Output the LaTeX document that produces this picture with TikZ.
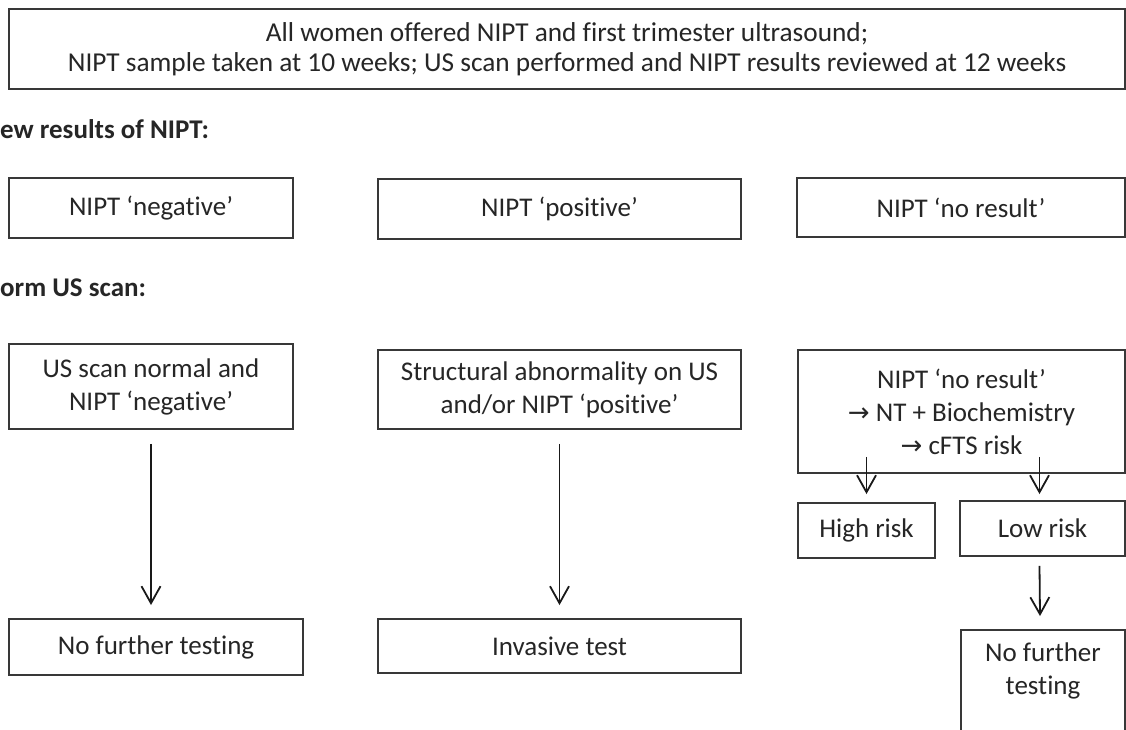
\documentclass[tikz,border=0pt]{standalone}
\usepackage{fontspec}
\setmainfont{Carlito}[Ligatures={TeX,NoCommon}]
\newfontfamily\symfont{DejaVu Sans}
\usetikzlibrary{arrows.meta}
\newcommand{\rarr}{{\symfont\fontsize{26}{33}\selectfont →}}
\begin{document}
\begin{tikzpicture}[x=1pt,y=-1pt,
  box/.style={draw=black!78,line width=1.9pt,rectangle,inner sep=0pt,align=center,
    font=\fontsize{27}{33}\selectfont,text=black!85},
  lab/.style={anchor=west,inner sep=0pt,font=\bfseries\fontsize{27}{33}\selectfont,text=black!85},
  arr/.style={draw=black!90,line width=1.8pt,-{Straight Barb[length=17pt,width=19pt]}}]
\useasboundingbox (0,0) rectangle (1126,729);
\clip (0,0) rectangle (1126,729);
\fill[white] (0,0) rectangle (1126,729);

\node[box,minimum width=1116pt,minimum height=80pt,font=\fontsize{27.3}{30}\selectfont] (top) at (567,49)
  {All women offered NIPT and first trimester ultrasound;\\NIPT sample taken at 10 weeks; US scan performed and NIPT results reviewed at 12 weeks};

\node[lab] (lab1) at (0,129) {ew results of NIPT:};
\node[box,minimum width=284pt,minimum height=60pt] (b1) at (151,208) {NIPT ‘negative’};
\node[box,minimum width=363pt,minimum height=60pt] (b2) at (559.5,209) {NIPT ‘positive’};
\node[box,minimum width=328pt,minimum height=59pt] (b3) at (961,207.5) {NIPT ‘no result’};

\node[lab] (lab2) at (0,288) {orm US scan:};
\node[box,minimum width=284pt,minimum height=85pt] (b4) at (151,386.5) {US scan normal and\\NIPT ‘negative’};
\node[box,minimum width=363pt,minimum height=79pt] (b5) at (559.5,389.5) {Structural abnormality on US\\and/or NIPT ‘positive’};
\node[box,minimum width=327pt,minimum height=123pt] (b6) at (961.5,411.5) {NIPT ‘no result’\\\rarr\ NT + Biochemistry\\\rarr\ cFTS risk};

\node[box,minimum width=294pt,minimum height=56pt] (b7) at (156,647) {No further testing};
\node[box,minimum width=363pt,minimum height=54pt] (b8) at (559.5,646) {Invasive test};
\node[box,minimum width=137pt,minimum height=55pt] (hr) at (866.5,530.5) {High risk};
\node[box,minimum width=165pt,minimum height=55pt] (lr) at (1042.5,528.5) {Low risk};
\node[box,minimum width=164pt,minimum height=120pt] (nf) at (1043,690) {No further\\testing\\\strut};

\draw[arr] ([yshift=-14pt]b4.south) -- ([yshift=13pt]b7.north -| b4.south);
\draw[arr] ([yshift=-14pt]b5.south) -- ([yshift=13pt]b8.north -| b5.south);
\draw[arr] ([yshift=17pt]b6.south -| hr.north) -- ([yshift=8pt]hr.north);
\draw[arr] ([yshift=17pt,xshift=-3pt]b6.south -| lr.north) -- ([yshift=6pt,xshift=-3pt]lr.north);
\draw[arr] ([yshift=-9pt,xshift=-3pt]lr.south) -- ([yshift=13pt,xshift=-3pt]nf.north);
\end{tikzpicture}
\end{document}
